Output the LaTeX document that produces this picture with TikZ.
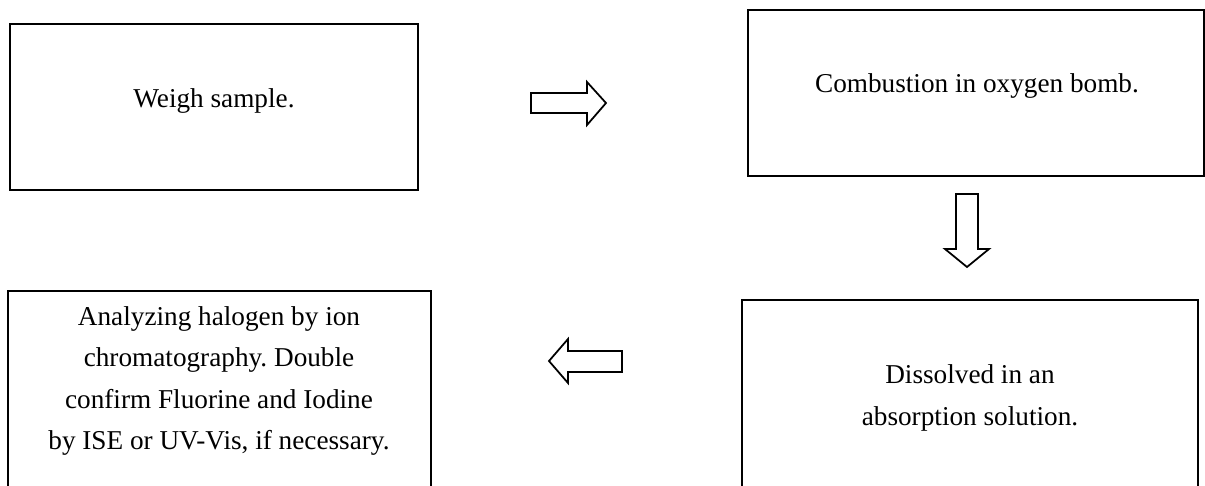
\documentclass[tikz,border=0pt]{standalone}
\usepackage{fontspec}
\setmainfont{Liberation Serif}
\usepackage{tikz}
\usetikzlibrary{positioning}
\frenchspacing

\tikzset{
  steptext/.style={align=center, font=\fontsize{15.5}{23.7}\selectfont},
  stepframe/.style={black, line width=1.1pt},
  blockarrow/.style={draw=black, line width=1pt, fill=white, line join=miter},
}

\begin{document}
\begin{tikzpicture}[x=0.02cm, y=-0.02cm]

\useasboundingbox (0,0) rectangle (1205,485);
\clip (0,0) rectangle (1205,485);

% boxes
\coordinate(A) at (10, 24);
\coordinate(B) at (418, 190);

\coordinate(C) at (748, 10);
\coordinate(D) at (1204, 176);

\coordinate(E) at (742, 300);
\coordinate(F) at (1198, 500);

\coordinate(G) at (8, 291);
\coordinate(H) at (431, 500);

\draw [stepframe] (A) rectangle (B);
\draw [stepframe] (C) rectangle (D);
\draw [stepframe] (E) rectangle (F);
\draw [stepframe] (G) rectangle (H);

\node[steptext, anchor=base] (weigh) at (214,107) {Weigh sample.};
\node[steptext, anchor=base] (burn) at (977,92) {Combustion in oxygen bomb.};
\node[steptext] (absorb) at (970,398) {Dissolved in an\\absorption solution.};
\node[steptext] (analyse) at (219,381) {Analyzing halogen by ion\\chromatography. Double\\confirm Fluorine and Iodine\\by ISE or UV-Vis, if necessary.};

% arrows
\draw [blockarrow] (531,93) -- (587,93) -- (587,82) -- (606,103) -- (587,125) -- (587,113) -- (531,113) -- cycle;
\draw [blockarrow] (956,194) -- (978,194) -- (978,249) -- (989,249) -- (967,267) -- (945,249) -- (956,249) -- cycle;
\draw [blockarrow] (622,351) -- (568,351) -- (568,339) -- (549,361) -- (568,383) -- (568,372) -- (622,372) -- cycle;

\end{tikzpicture}
\end{document}
